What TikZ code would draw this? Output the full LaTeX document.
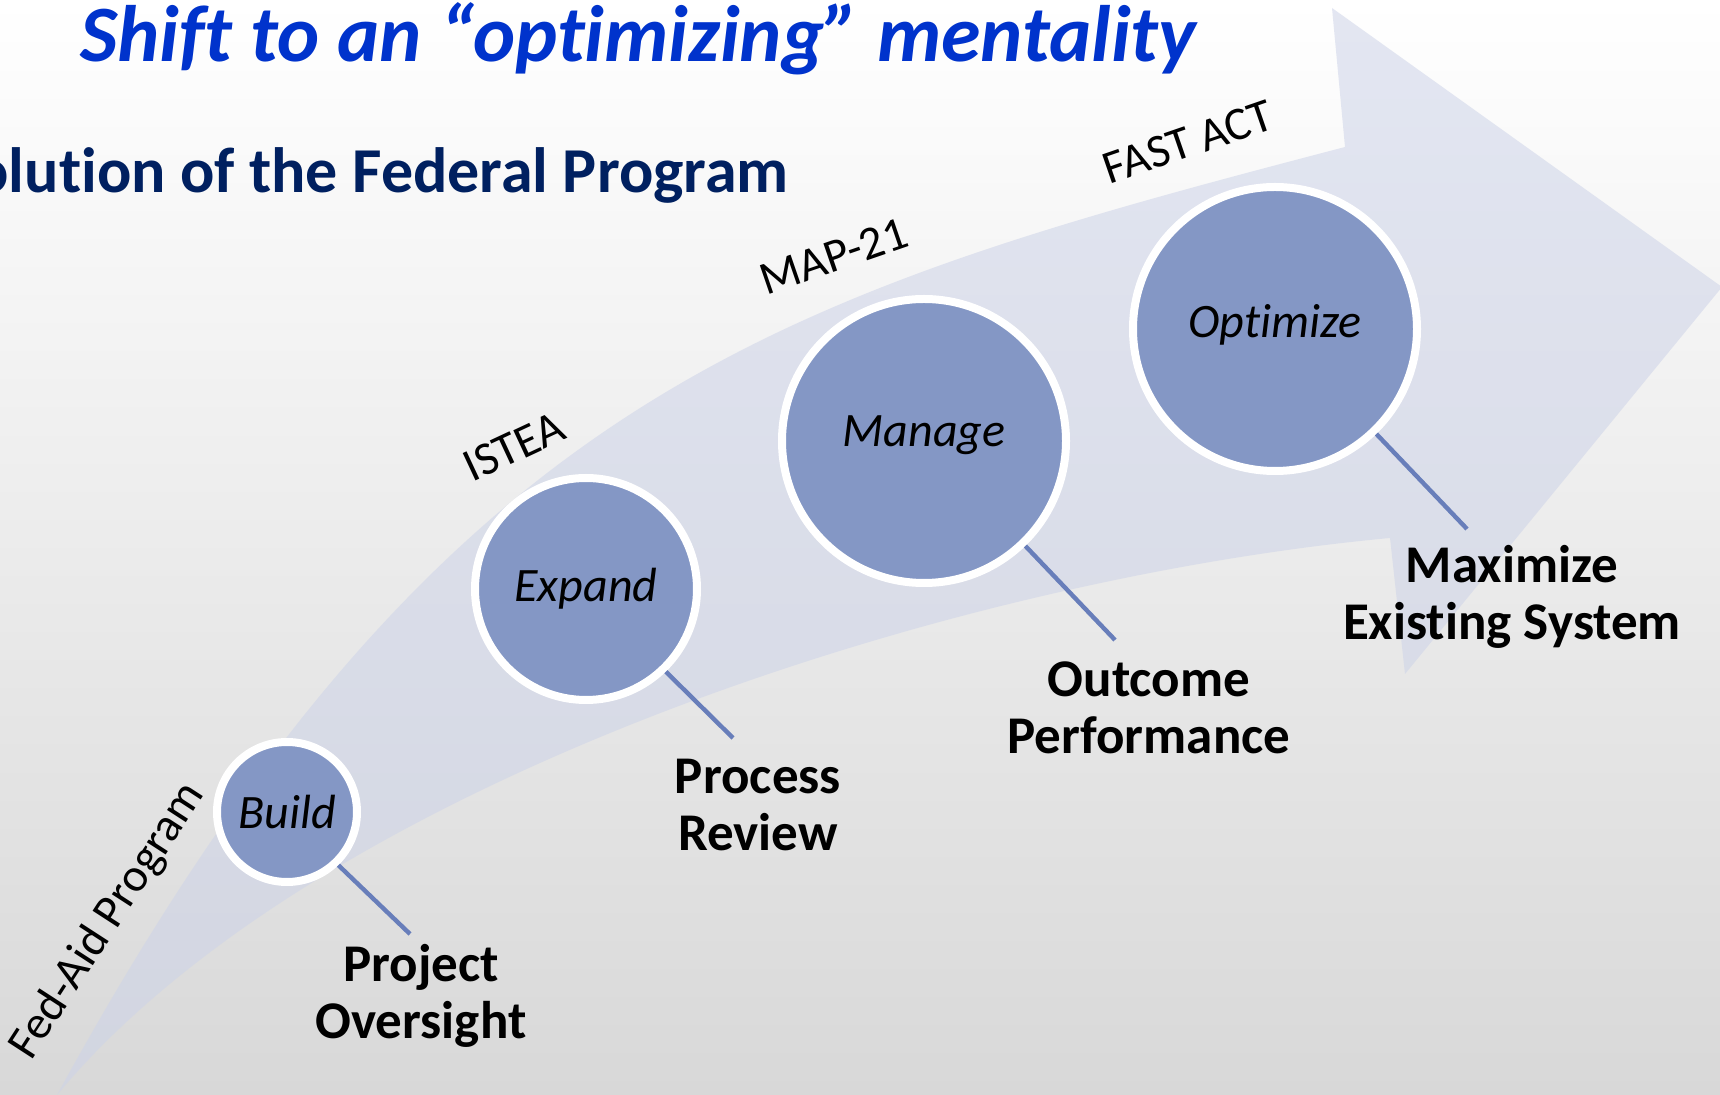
\documentclass[tikz,border=0pt]{standalone}
\usepackage{fontspec}
\setmainfont{Carlito}[Ligatures=NoCommon]
\definecolor{stagefill}{RGB}{132,151,197}
\definecolor{linkblue}{RGB}{104,126,186}
\definecolor{arrowtint}{RGB}{205,211,232}
\definecolor{titleblue}{RGB}{0,51,204}
\definecolor{navy}{RGB}{0,32,96}
\definecolor{bgbottom}{RGB}{216,216,216}
\begin{document}
\begin{tikzpicture}[x=0.5pt,y=-0.5pt,
	stage/.style={circle,fill=stagefill,draw=white,line width=4pt,inner sep=0pt,font=\fontsize{24}{28}\selectfont\itshape},
	link/.style={draw=linkblue,line width=2.2pt},
	result/.style={align=center,inner sep=0pt,font=\fontsize{26.5}{28.5}\selectfont\bfseries},
	law/.style={inner sep=0pt,font=\fontsize{23.5}{27}\selectfont}]
			%%%%% START %%%%%
			
			\useasboundingbox (0,0) rectangle (1720,1095);
			\clip (0,0) rectangle (1720,1095);
			\shade[top color=white, bottom color=bgbottom] (0,0) rectangle (1720,1095);
			
			% big curved arrow
			\fill[arrowtint, fill opacity=0.55] (57,1095) .. controls (441,393) and (775,296) .. (1345,147)
				-- (1332,8) -- (1722,287) -- (1405,674) -- (1390,538)
				.. controls (940,580) and (313,787) .. (57,1095) -- cycle;
			
			\node[anchor=base west, inner sep=0pt, text=titleblue, font=\fontsize{40}{48}\selectfont\bfseries\itshape] (title) at (80,62) {Shift to an “optimizing” mentality};
			\node[anchor=base east, inner sep=0pt, text=navy, font=\fontsize{32}{38}\selectfont\bfseries] (subtitle) at (789,193) {Evolution of the Federal Program};
			
			\node[law, rotate=57] (fedaid) at (108,921) {Fed-Aid Program};
			\node[law, rotate=25] (istea) at (514,447) {ISTEA};
			\node[law, rotate=19] (map21) at (834,256) {MAP-21};
			\node[law, rotate=19] (fastact) at (1188,142) {FAST ACT};
			
			\node[stage, minimum size=70pt] (build) at (287,812) {Build};
			\node[stage, minimum size=111pt] (expand) at (586,589) {Expand};
			\node[stage, minimum size=142pt] (manage) at (924,441) {\raisebox{3pt}[\height][\depth]{Manage}};
			\node[stage, minimum size=142pt] (optimize) at (1275,329) {\raisebox{2pt}[\height][\depth]{Optimize}};
			
			\coordinate (buildTip) at (410,934);
			\coordinate (expandTip) at (733,738);
			\coordinate (manageTip) at (1115,640);
			\coordinate (optimizeTip) at (1467,529);
			\draw[link] (build.-46) -- (buildTip);
			\draw[link] (expand.-46) -- (expandTip);
			\draw[link] (manage.-46) -- (manageTip);
			\draw[link] (optimize.-46) -- (optimizeTip);
			
			\node[result] (proj) at (421,996) {Project\\Oversight};
			\node[result] (proc) at (758,805) {Process\\Review};
			\node[result] (outc) at (1149,708) {Outcome\\Performance};
			\node[result] (maxi) at (1512,597) {Maximize\\Existing System};
			
			%%%%% END %%%%%
\end{tikzpicture}
\end{document}
